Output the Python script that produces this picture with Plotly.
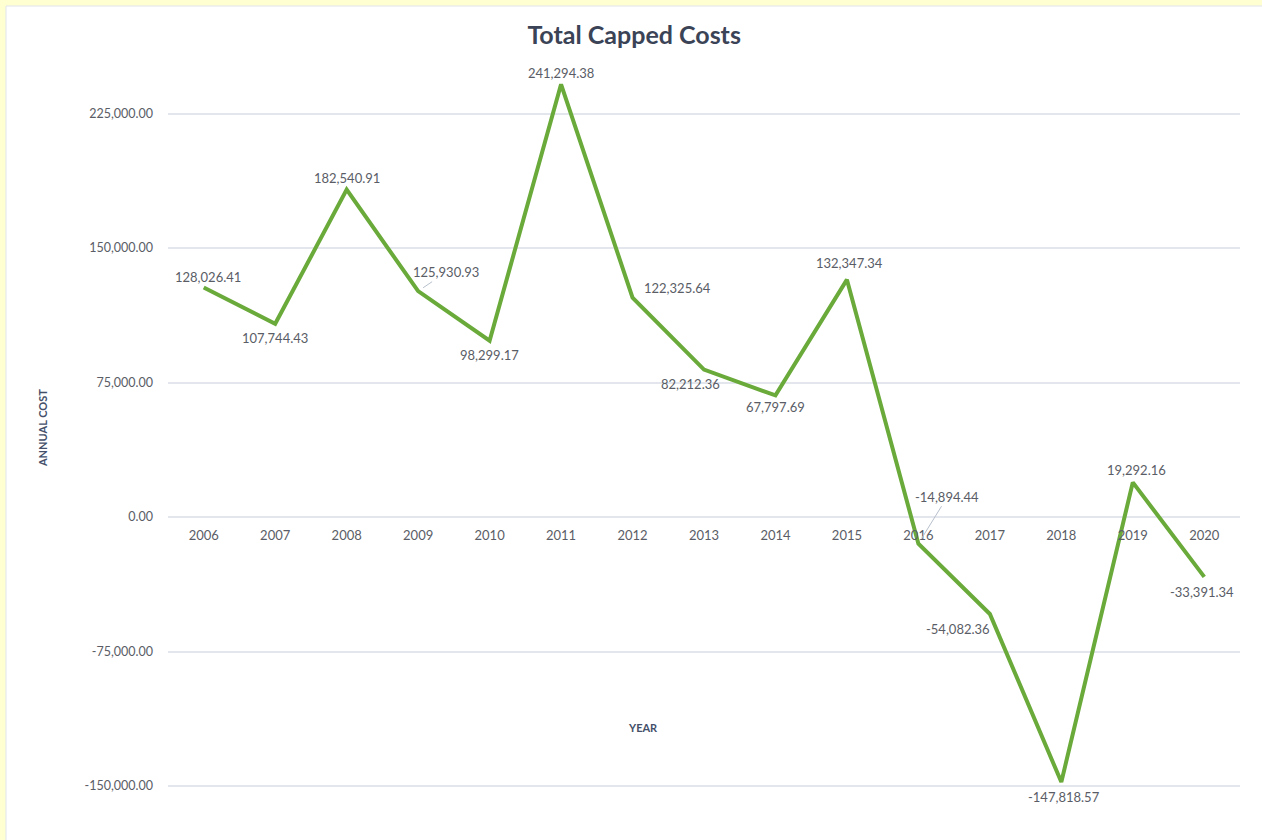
import plotly.graph_objects as go

years = ["2006", "2007", "2008", "2009", "2010", "2011", "2012", "2013",
         "2014", "2015", "2016", "2017", "2018", "2019", "2020"]
annual_cost = [128026.41, 107744.43, 182540.91, 125930.93, 98299.17, 241294.38,
               122325.64, 82212.36, 67797.69, 132347.34, -14894.44, -54082.36,
               -147818.57, 19292.16, -33391.34]
y_tick_values = [225000, 150000, 75000, 0, -75000, -150000]
y_tick_labels = ["225,000.00", "150,000.00", "75,000.00", "0.00", "-75,000.00", "-150,000.00"]

# label offsets in pixels (dx, dy with dy positive = up)
label_offsets = [(4, 10), (0, -14), (0, 12), (28, 19), (0, -14), (0, 11),
                 (45, 10), (-14, -14), (0, -12), (3, 17), (29, 47), (-32, -15),
                 (3, -15), (4, 12), (-2, -15)]
leader_idx = [3, 10]

LINE = "#6aaa3a"
LABEL = "#5a5d66"
FONT = "Lato, Open Sans, sans-serif"

y_min, y_max = -157807, 254833
zero_pos = (0 - y_min) / (y_max - y_min)

fig = go.Figure()
fig.add_trace(go.Scatter(
    x=years, y=annual_cost, mode="lines",
    line=dict(color=LINE, width=4),
    hoverinfo="skip", showlegend=False,
))

annotations = []
for i, v in enumerate(annual_cost):
    dx, dy = label_offsets[i]
    txt = f"{v:,.2f}"
    if i in leader_idx:
        annotations.append(dict(
            x=i, y=v, xref="x", yref="y", text=txt,
            showarrow=True, arrowhead=0, arrowwidth=1, arrowcolor="#b8c0cc",
            ax=dx, ay=-dy, standoff=6,
            font=dict(family=FONT, size=13, color=LABEL),
        ))
    else:
        annotations.append(dict(
            x=i, y=v, xref="x", yref="y", text=txt, showarrow=False,
            xshift=dx, yshift=dy, xanchor="center", yanchor="middle",
            font=dict(family=FONT, size=13, color=LABEL),
        ))

annotations.append(dict(
    x=0.443, y=0.0986, xref="paper", yref="paper", text="<b>YEAR</b>",
    xanchor="center", yanchor="middle",
    showarrow=False, font=dict(family=FONT, size=11, color="#44506a"),
))
annotations.append(dict(
    x=-0.1175, y=0.5027, xref="paper", yref="paper", text="<b>ANNUAL COST</b>",
    xanchor="center", yanchor="middle",
    textangle=-90, showarrow=False, font=dict(family=FONT, size=11, color="#44506a"),
))

fig.update_layout(
    width=1262, height=840,
    margin=dict(l=168, r=22, t=60, b=40),
    paper_bgcolor="#ffffd2",
    plot_bgcolor="white",
    title=dict(text="<b>Total Capped Costs</b>", x=0.5025, xanchor="center",
               y=1 - 35 / 840, yanchor="middle",
               font=dict(family=FONT, size=25, color="#3b4356")),
    font=dict(family=FONT, size=13, color=LABEL),
    annotations=annotations,
    shapes=[dict(type="rect", xref="paper", yref="paper",
                 x0=(6 - 168) / 1072, x1=(1262 - 168) / 1072 + 0.01,
                 y0=(800 - 850) / 740, y1=(800 - 6) / 740,
                 fillcolor="white", line=dict(color="#dfe4ec", width=1),
                 layer="below")],
    xaxis=dict(
        type="category", range=[-0.5, 14.5],
        anchor="free", position=zero_pos,
        showgrid=False, showline=False, zeroline=False, ticks="",
        ticklabelstandoff=9,
        tickfont=dict(family=FONT, size=13, color=LABEL),
    ),
    yaxis=dict(
        range=[y_min, y_max],
        tickvals=y_tick_values, ticktext=y_tick_labels,
        showgrid=True, gridcolor="#e3e7ed", gridwidth=1.5,
        zeroline=False, showline=False, ticks="",
        ticklabelstandoff=14,
        tickfont=dict(family=FONT, size=12.5, color=LABEL),
    ),
    hovermode=False,
)

fig.write_html("out.html")
